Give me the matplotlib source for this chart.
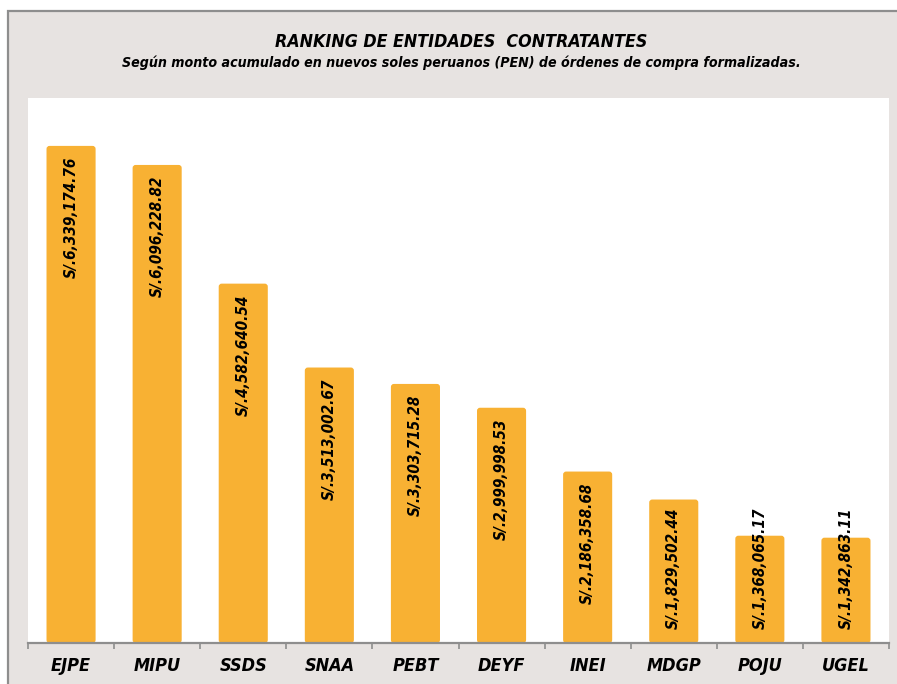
import matplotlib.pyplot as plt
from matplotlib import font_manager
from matplotlib.patches import FancyBboxPatch, Rectangle

entidades = ['EJPE', 'MIPU', 'SSDS', 'SNAA', 'PEBT', 'DEYF', 'INEI', 'MDGP', 'POJU', 'UGEL']
montos = [6339174.76, 6096228.82, 4582640.54, 3513002.67, 3303715.28,
          2999998.53, 2186358.68, 1829502.44, 1368065.17, 1342863.11]

FONDO = '#E7E3E1'
BARRA = '#F8B133'
GRIS = '#8E8E8E'

# fuente condensada si existe
fp = font_manager.FontProperties(family='DejaVu Sans', stretch='condensed',
                                 weight='bold', style='italic')
archivo = font_manager.findfont(fp)
condensada = 'Condensed' in archivo
esc = 1.0 if condensada else 0.82

def fuente(size):
    return dict(family='DejaVu Sans', stretch='condensed', fontweight='bold',
                fontstyle='italic', fontsize=size * esc)

W, H = 897, 684
fig = plt.figure(figsize=(W / 100, H / 100), dpi=100, facecolor='white')

# marco gris de fondo
fig.add_artist(Rectangle((7.5 / W, -0.1), 1.2, 1 - 11.5 / H + 0.1, transform=fig.transFigure,
                         facecolor=FONDO, edgecolor=GRIS, linewidth=1.6, zorder=-10))

ax = fig.add_axes([28 / W, 1 - 643 / H, 861 / W, 545 / H])
ax.set_facecolor('white')

barras = ax.bar(range(len(entidades)), montos, width=0.57, color=BARRA)
for b in barras:
    b.set_visible(False)
    ax.add_patch(FancyBboxPatch((b.get_x(), 0), b.get_width(), b.get_height(),
                                boxstyle='round,pad=0,rounding_size=0.035',
                                mutation_aspect=1.09e6, facecolor=BARRA,
                                edgecolor='none', zorder=2))

ax.set_xlim(-0.5, len(entidades) - 0.5)
ax.set_ylim(0, 6.95e6)
ax.set_yticks([])
for s in ['left', 'right', 'top']:
    ax.spines[s].set_visible(False)
ax.spines['bottom'].set_color(GRIS)
ax.spines['bottom'].set_linewidth(1.6)
ax.spines['bottom'].set_zorder(3)

ax.set_xticks(range(len(entidades)))
ax.set_xticklabels(entidades, **fuente(13))
ax.set_xticks([i - 0.5 for i in range(len(entidades) + 1)], minor=True)
ax.tick_params(axis='x', which='major', length=0, pad=10)
ax.tick_params(axis='x', which='minor', length=4, color=GRIS, width=1.2)

# etiquetas de valor dentro de cada barra
etiquetas = []
for i, v in enumerate(montos):
    t = ax.annotate(f'S/.{v:,.2f}', (i, v), xytext=(0, -8), textcoords='offset points',
                    rotation=90, ha='center', va='top', zorder=4, **fuente(11))
    etiquetas.append(t)

fig.canvas.draw()
r = fig.canvas.get_renderer()
y0 = ax.transData.transform((0, 0))[1]
for i, t in enumerate(etiquetas):
    bb = t.get_window_extent(r)
    if bb.y0 < y0 + 13:
        t.xy = (i, 0)
        t.set_va('bottom')
        t.xyann = (0, 10)

fig.text(461 / W, 1 - 42 / H, 'RANKING DE ENTIDADES  CONTRATANTES', ha='center', va='center',
         **fuente(12.8))
fig.text(461 / W, 1 - 63 / H,
         'Según monto acumulado en nuevos soles peruanos (PEN) de órdenes de compra formalizadas.',
         ha='center', va='center', **fuente(10.2))

fig.savefig('out.png', dpi=100, facecolor=fig.get_facecolor())
